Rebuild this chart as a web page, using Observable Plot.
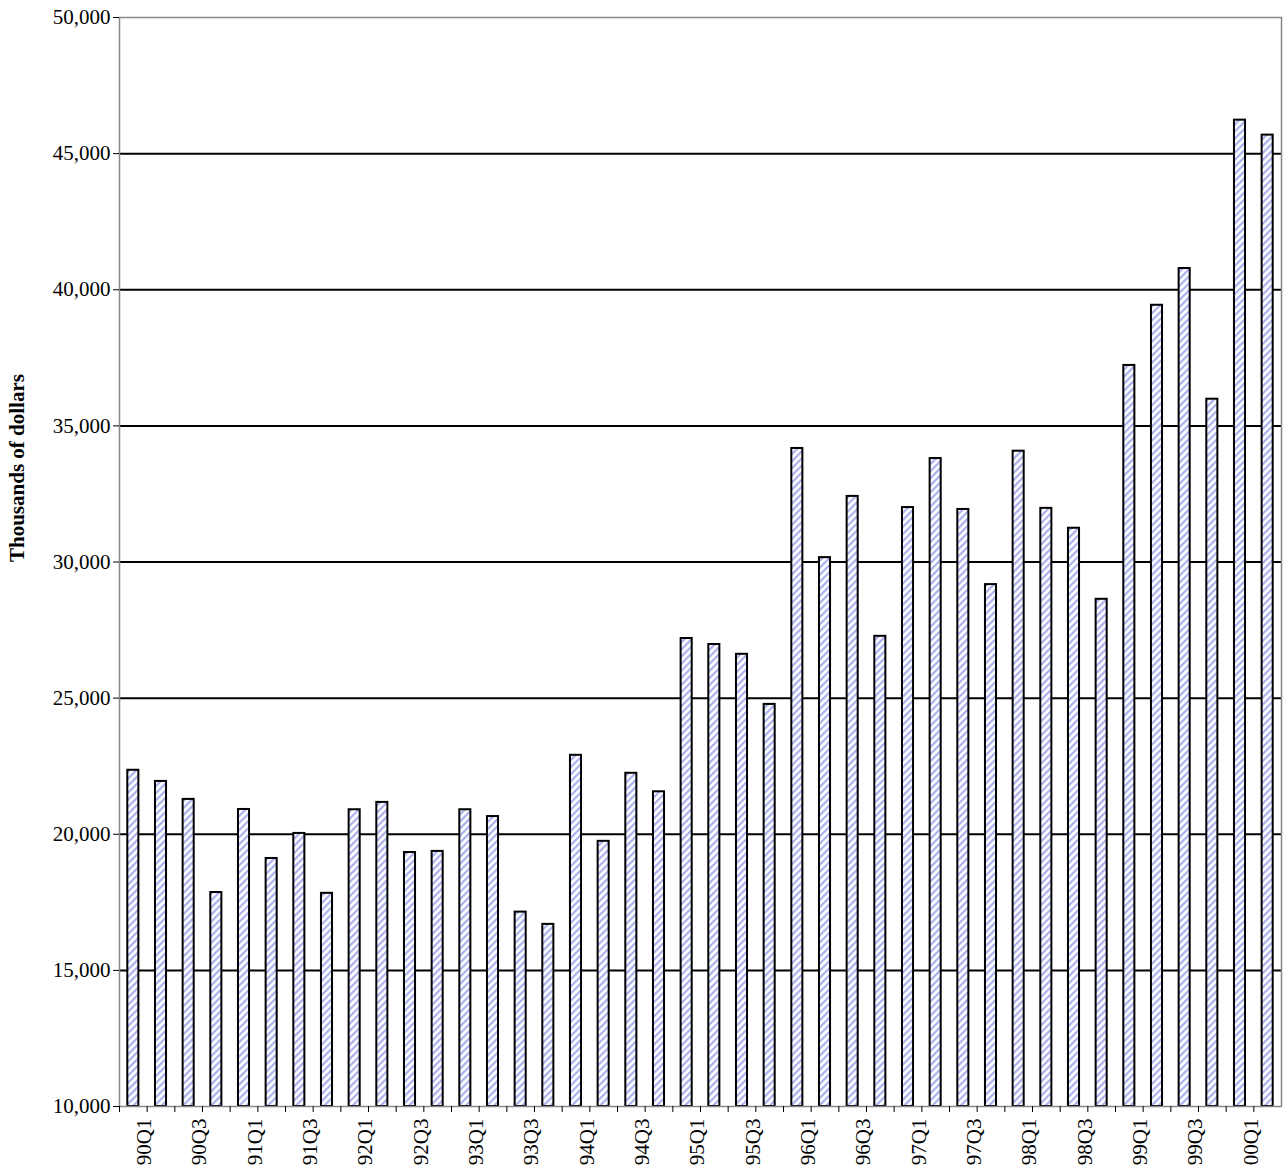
<!DOCTYPE html>
<html><head><meta charset="utf-8">
<script src="https://cdn.jsdelivr.net/npm/d3@7"></script>
<script src="https://cdn.jsdelivr.net/npm/@observablehq/plot@0.6"></script>
<style>body{margin:0;background:#fff} svg text{font-family:'Liberation Serif','Times New Roman',serif !important;font-size:21px !important;}</style>
</head><body><div id="chart"></div>
<script>
const quarters = ["90Q1","90Q2","90Q3","90Q4","91Q1","91Q2","91Q3","91Q4","92Q1","92Q2","92Q3","92Q4","93Q1","93Q2","93Q3","93Q4","94Q1","94Q2","94Q3","94Q4","95Q1","95Q2","95Q3","95Q4","96Q1","96Q2","96Q3","96Q4","97Q1","97Q2","97Q3","97Q4","98Q1","98Q2","98Q3","98Q4","99Q1","99Q2","99Q3","99Q4","00Q1","00Q2"];
const values = [22350,21940,21280,17860,20910,19110,20030,17830,20900,21170,19330,19370,20900,20650,17140,16690,22900,19740,22240,21560,27190,26970,26610,24770,34170,30160,32410,27270,32000,33800,31930,29170,34070,31970,31240,28630,37220,39430,40780,35980,46230,45680];
const yTicks = [10000,15000,20000,25000,30000,35000,40000,45000,50000];
const data = quarters.map((q,i)=>({q, v: values[i]}));
const W = 1283, H = 1176, mL = 119, mR = 2;
const step = (W - mL - mR) / quarters.length;
const chart = Plot.plot({
  width: W, height: H, marginLeft: mL, marginRight: mR, marginTop: 17, marginBottom: 70,
  style: {background: "#fff"},
  x: {domain: quarters, paddingInner: 0.6, paddingOuter: 0.3, round: false, label: null},
  y: {domain: [10000, 50000], ticks: yTicks, label: null, tickFormat: d3.format(",")},
  marks: [
    Plot.ruleY(yTicks.slice(1, -1), {stroke: "#000", strokeWidth: 2}),
    Plot.barY(data, {x: "q", y1: 10000, y2: "v", fill: "url(#hatch)", stroke: "#000", strokeWidth: 2}),
    Plot.frame({stroke: "#888", strokeWidth: 1.5}),
    Plot.axisY({ticks: yTicks, tickFormat: d3.format(","), tickSize: 6, tickPadding: 3}),
    Plot.axisX({text: null, tickSize: 6, dx: -step / 2}),
    Plot.axisX({ticks: quarters.filter((d,i)=>i%2===0), tickSize: 0, tickRotate: -90, tickPadding: 12, dx: 11}),
    Plot.text(["Thousands of dollars"], {frameAnchor: "left", dx: -102, rotate: -90, fontWeight: "bold"})
  ]
});
const svg = d3.select(chart);
const defs = svg.insert("defs", ":first-child");
const p = defs.append("pattern").attr("id", "hatch").attr("patternUnits", "userSpaceOnUse")
  .attr("width", 5).attr("height", 5).attr("patternTransform", "rotate(45)");
p.append("rect").attr("width", 5).attr("height", 5).attr("fill", "#fff");
p.append("rect").attr("width", 2.2).attr("height", 5).attr("fill", "#aab0ee");
document.getElementById("chart").appendChild(chart);
</script></body></html>
